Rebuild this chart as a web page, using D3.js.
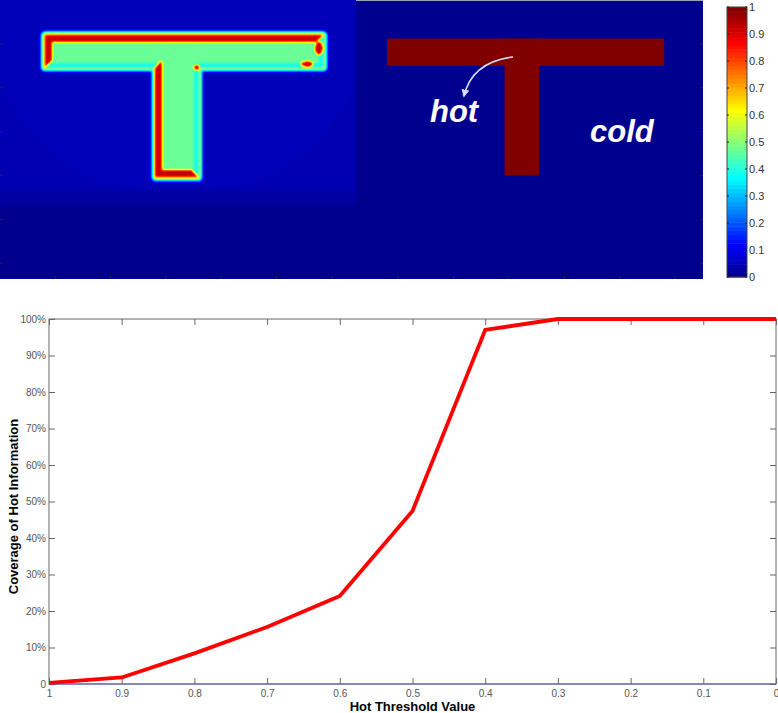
<!DOCTYPE html>
<html>
<head>
<meta charset="utf-8">
<script src="https://cdn.jsdelivr.net/npm/d3@7"></script>
<style>
  html, body { margin: 0; padding: 0; background: #fff; }
  svg { display: block; }
</style>
</head>
<body>
<script>
// ---- data ----
// line chart
const thresholds = [1, 0.9, 0.8, 0.7, 0.6, 0.5, 0.4, 0.3, 0.2, 0.1, 0];
const hotCoverage = [0.3, 1.8, 8.4, 15.6, 24.1, 47.4, 97.0, 100, 100, 100, 100];
const coldCoverage = [0, 0, 0, 0, 0, 0, 0, 0, 0, 0, 0];
const xTickLabels = ["1", "0.9", "0.8", "0.7", "0.6", "0.5", "0.4", "0.3", "0.2", "0.1", "0"];
const yTickValues = [0, 10, 20, 30, 40, 50, 60, 70, 80, 90, 100];
const yTickLabels = ["0", "10%", "20%", "30%", "40%", "50%", "60%", "70%", "80%", "90%", "100%"];

// colour bar (matlab jet)
const jetStops = [0, 0.111, 0.365, 0.619, 0.873, 1];
const jetColors = ["#00008f", "#0000ff", "#00ffff", "#ffff00", "#ff0000", "#800000"];
const colorbarTicks = [0, 0.1, 0.2, 0.3, 0.4, 0.5, 0.6, 0.7, 0.8, 0.9, 1];
const colorbarLabels = ["0", "0.1", "0.2", "0.3", "0.4", "0.5", "0.6", "0.7", "0.8", "0.9", "1"];

// simulated field (left image), image units
const simRects = [
  { x0: 38, x1: 295, y0: 37, y1: 80 },    // bar
  { x0: 138, x1: 182, y0: 37, y1: 205 }   // stem
];
const simHotSides = [["top", "left"], ["left", "bottom"]];
const simHotSpots = [
  { cx: 288.5, cy: 55, rx: 3.4, ry: 7.5 },
  { cx: 278, cy: 73, rx: 5.5, ry: 3 },
  { cx: 178, cy: 77, rx: 2.4, ry: 3.2 }
];
const simFieldLevels = { interior: 0.47, rim: 0.38, edge: 0.58, hot: 0.93, glow: 0.3 };
const simBgLevels = [0.042, 0.035, 0.018, 0.0];   // dome, upper, band, lower
const simBgBreaks = [216, 233];                    // y where band / lower start

// target (right image), image units
const targetRects = [
  { x0: 40, x1: 290, y0: 44, y1: 75 },
  { x0: 146, x1: 177, y0: 44, y1: 200 }
];
const imageTicks = [50, 100, 150, 200, 250, 300];

// ---- drawing ----
const W = 778, H = 713;
const svg = d3.select("body").append("svg").attr("width", W).attr("height", H);
const jet = d3.scaleLinear().domain(jetStops).range(jetColors).clamp(true);

// panel scales
const simX = d3.scaleLinear([0, 322], [0, 356]);
const simY = d3.scaleLinear([0, 318], [0, 279]);
const tgtX = d3.scaleLinear([12, 325], [356, 703]);
const tgtY = d3.scaleLinear([0, 318], [0, 279]);

// box blur on a value grid, used to soften the simulated field
function boxBlur(src, w, h, r) {
  const tmp = new Float32Array(w * h), dst = new Float32Array(w * h);
  for (let y = 0; y < h; y++) {
    for (let x = 0; x < w; x++) {
      let s = 0, n = 0;
      for (let k = -r; k <= r; k++) {
        const xx = Math.min(w - 1, Math.max(0, x + k));
        s += src[y * w + xx]; n++;
      }
      tmp[y * w + x] = s / n;
    }
  }
  for (let y = 0; y < h; y++) {
    for (let x = 0; x < w; x++) {
      let s = 0, n = 0;
      for (let k = -r; k <= r; k++) {
        const yy = Math.min(h - 1, Math.max(0, y + k));
        s += tmp[yy * w + x]; n++;
      }
      dst[y * w + x] = s / n;
    }
  }
  return dst;
}

// left heatmap painted pixel by pixel on a canvas
function drawSimulation() {
  const w = 356, h = 279;
  const canvas = document.createElement("canvas");
  canvas.width = w; canvas.height = h;
  const ctx = canvas.getContext("2d");
  const img = ctx.createImageData(w, h);

  const rects = simRects.map(r => ({ x0: simX(r.x0), x1: simX(r.x1), y0: simY(r.y0), y1: simY(r.y1) }));
  const spots = simHotSpots.map(s => ({ cx: simX(s.cx), cy: simY(s.cy), rx: simX(s.rx), ry: simY(s.ry) }));
  const breaks = simBgBreaks.map(b => simY(b));
  const dome = { cx: simX(161), cy: simY(20), rx: simX(172), ry: simY(205) };
  const L = simFieldLevels;
  const corner = 3;   // rounding of the outer corners, px

  function background(px, py) {
    if (py >= breaks[1]) return simBgLevels[3];
    if (py >= breaks[0]) return simBgLevels[2];
    const e = ((px - dome.cx) / dome.rx) ** 2 + ((py - dome.cy) / dome.ry) ** 2;
    return e < 1 ? simBgLevels[0] : simBgLevels[1];
  }

  function value(px, py) {
    let depth = -1, side = null, idx = -1, out = Infinity;
    rects.forEach((r, i) => {
      const dl = px - r.x0, dr = r.x1 - px, dt = py - r.y0, db = r.y1 - py;
      // rounded-rectangle distance
      const qx = Math.max(r.x0 + corner - px, 0, px - (r.x1 - corner));
      const qy = Math.max(r.y0 + corner - py, 0, py - (r.y1 - corner));
      const dist = Math.hypot(qx, qy) - corner;
      if (dist <= 0 && dl >= 0 && dr >= 0 && dt >= 0 && db >= 0) {
        const m = Math.min(dl, dr, dt, db);
        if (m > depth) {
          depth = m; idx = i;
          side = m === dl ? "left" : m === dr ? "right" : m === dt ? "top" : "bottom";
        }
      } else {
        out = Math.min(out, Math.max(0, dist));
      }
    });
    const bg = background(px, py);
    if (idx < 0) {
      const t = Math.max(0, 1 - out / 3);
      return bg + (L.glow - bg) * t;
    }
    const hot = simHotSides[idx].includes(side);
    let v;
    if (depth < 2.5) v = L.edge;
    else if (hot && depth < 9.5) v = L.hot;
    else if (!hot && depth < 7) v = L.rim;
    else v = L.interior;
    spots.forEach(s => {
      const e = ((px - s.cx) / s.rx) ** 2 + ((py - s.cy) / s.ry) ** 2;
      if (e < 1) v = L.hot;
    });
    return v;
  }

  let grid = new Float32Array(w * h);
  for (let py = 0; py < h; py++) {
    for (let px = 0; px < w; px++) grid[py * w + px] = value(px + 0.5, py + 0.5);
  }
  grid = boxBlur(boxBlur(grid, w, h, 1), w, h, 1);

  for (let i = 0; i < w * h; i++) {
    const c = d3.rgb(jet(grid[i]));
    img.data[i * 4] = c.r; img.data[i * 4 + 1] = c.g; img.data[i * 4 + 2] = c.b; img.data[i * 4 + 3] = 255;
  }
  ctx.putImageData(img, 0, 0);
  svg.append("image")
    .attr("href", canvas.toDataURL())
    .attr("x", 0).attr("y", 0)
    .attr("width", w).attr("height", h);

  // small matlab image-axis ticks
  const t = svg.append("g").attr("stroke", "#223").attr("stroke-width", 1);
  t.selectAll(".ly").data(imageTicks).join("line")
    .attr("x1", 0).attr("x2", 3).attr("y1", d => simY(d)).attr("y2", d => simY(d));
  t.selectAll(".bx").data(imageTicks).join("line")
    .attr("x1", d => simX(d)).attr("x2", d => simX(d)).attr("y1", 279).attr("y2", 276);
}

function drawTarget() {
  const g = svg.append("g");
  g.append("rect")
    .attr("x", tgtX(12)).attr("y", tgtY(0))
    .attr("width", tgtX(325) - tgtX(12)).attr("height", tgtY(318) - tgtY(0))
    .attr("fill", jet(0));
  g.selectAll(".t").data(targetRects).join("rect")
    .attr("x", d => tgtX(d.x0)).attr("y", d => tgtY(d.y0))
    .attr("width", d => tgtX(d.x1) - tgtX(d.x0))
    .attr("height", d => tgtY(d.y1) - tgtY(d.y0))
    .attr("fill", jet(1));
  g.append("line").attr("x1", tgtX(12)).attr("x2", tgtX(325)).attr("y1", 0.5).attr("y2", 0.5)
    .attr("stroke", "#9aa0b8");

  const t = g.append("g").attr("stroke", "#223").attr("stroke-width", 1);
  t.selectAll(".ry").data(imageTicks).join("line")
    .attr("x1", 703).attr("x2", 700).attr("y1", d => tgtY(d)).attr("y2", d => tgtY(d));
  t.selectAll(".bx").data(imageTicks).join("line")
    .attr("x1", d => tgtX(d)).attr("x2", d => tgtX(d)).attr("y1", 279).attr("y2", 276);

  // annotation
  const defs = svg.append("defs");
  defs.append("marker").attr("id", "head")
    .attr("viewBox", "0 0 10 10").attr("refX", 8).attr("refY", 5)
    .attr("markerWidth", 5).attr("markerHeight", 5).attr("orient", "auto")
    .append("path").attr("d", "M0,0 L10,5 L0,10 Z").attr("fill", "#d8dcff");
  g.append("path")
    .attr("d", "M513,57 Q472,62 464,96")
    .attr("fill", "none").attr("stroke", "#d8dcff").attr("stroke-width", 1.6)
    .attr("marker-end", "url(#head)");
  g.append("text").attr("x", 430).attr("y", 122).text("hot")
    .attr("fill", "#fff").attr("font-family", "Liberation Sans, Arial, sans-serif")
    .attr("font-weight", "bold").attr("font-style", "italic").attr("font-size", 31);
  g.append("text").attr("x", 590).attr("y", 142).text("cold")
    .attr("fill", "#fff").attr("font-family", "Liberation Sans, Arial, sans-serif")
    .attr("font-weight", "bold").attr("font-style", "italic").attr("font-size", 31);
}

function drawColorbar() {
  const cb = { x: 727, w: 20, top: 7, bottom: 277 };
  const cy = d3.scaleLinear([0, 1], [cb.bottom, cb.top]);
  const n = 64;
  const g = svg.append("g");
  g.selectAll("rect.c").data(d3.range(n)).join("rect")
    .attr("x", cb.x).attr("width", cb.w)
    .attr("y", i => cy((i + 1) / n)).attr("height", (cb.bottom - cb.top) / n + 0.5)
    .attr("fill", i => jet(i / (n - 1)));
  g.append("rect").attr("x", cb.x).attr("y", cb.top).attr("width", cb.w)
    .attr("height", cb.bottom - cb.top).attr("fill", "none").attr("stroke", "#444");
  g.selectAll("line.tl").data(colorbarTicks).join("line")
    .attr("x1", cb.x).attr("x2", cb.x + 2).attr("y1", d => cy(d)).attr("y2", d => cy(d))
    .attr("stroke", "#222");
  g.selectAll("line.tr").data(colorbarTicks).join("line")
    .attr("x1", cb.x + cb.w).attr("x2", cb.x + cb.w - 2).attr("y1", d => cy(d)).attr("y2", d => cy(d))
    .attr("stroke", "#222");
  g.selectAll("text").data(colorbarTicks).join("text")
    .attr("x", cb.x + cb.w + 2).attr("y", d => cy(d) + 4)
    .text((d, i) => colorbarLabels[i])
    .attr("font-family", "Liberation Sans, Arial, sans-serif").attr("font-size", 11)
    .attr("fill", "#333");
}

function drawChart() {
  const m = { left: 49, right: 776, top: 319, bottom: 684 };
  const x = d3.scaleLinear([1, 0], [m.left, m.right]);
  const y = d3.scaleLinear([0, 100], [m.bottom, m.top]);
  const axisColor = "#666";
  const font = "Liberation Sans, Arial, sans-serif";

  const g = svg.append("g");
  g.append("rect").attr("x", m.left).attr("y", m.top)
    .attr("width", m.right - m.left).attr("height", m.bottom - m.top)
    .attr("fill", "#fff").attr("stroke", axisColor).attr("stroke-width", 1);

  const styleAxis = sel => {
    sel.select(".domain").remove();
    sel.selectAll(".tick line").attr("stroke", axisColor);
    sel.selectAll(".tick text").attr("fill", "#555").attr("font-family", font).attr("font-size", 10);
  };

  g.append("g").attr("transform", `translate(0,${m.bottom})`)
    .call(d3.axisBottom(x).tickValues(thresholds).tickSize(-6).tickPadding(6)
      .tickFormat((d, i) => xTickLabels[i]))
    .call(styleAxis);
  g.append("g").attr("transform", `translate(0,${m.top})`)
    .call(d3.axisTop(x).tickValues(thresholds).tickSize(-6).tickFormat(""))
    .call(styleAxis);
  g.append("g").attr("transform", `translate(${m.left},0)`)
    .call(d3.axisLeft(y).tickValues(yTickValues).tickSize(-6).tickPadding(3)
      .tickFormat((d, i) => yTickLabels[i]))
    .call(styleAxis);
  g.append("g").attr("transform", `translate(${m.right},0)`)
    .call(d3.axisRight(y).tickValues(yTickValues).tickSize(-6).tickFormat(""))
    .call(styleAxis);

  const line = d3.line().x((d, i) => x(thresholds[i])).y(d => y(d));
  g.append("path").datum(coldCoverage).attr("d", line)
    .attr("fill", "none").attr("stroke", "#5b5bd0").attr("stroke-width", 1.2);
  g.append("path").datum(hotCoverage).attr("d", line)
    .attr("fill", "none").attr("stroke", "#ff0000").attr("stroke-width", 3.8)
    .attr("stroke-linejoin", "round");

  g.append("text").attr("x", (m.left + m.right) / 2).attr("y", 711)
    .attr("text-anchor", "middle").attr("font-family", font)
    .attr("font-weight", "bold").attr("font-size", 13).attr("fill", "#000")
    .text("Hot Threshold Value");
  g.append("text")
    .attr("transform", `translate(18,${(m.top + m.bottom) / 2 + 5}) rotate(-90)`)
    .attr("text-anchor", "middle").attr("font-family", font)
    .attr("font-weight", "bold").attr("font-size", 13).attr("fill", "#000")
    .text("Coverage of Hot Information");
}

drawSimulation();
drawTarget();
drawColorbar();
drawChart();
</script>
</body>
</html>
